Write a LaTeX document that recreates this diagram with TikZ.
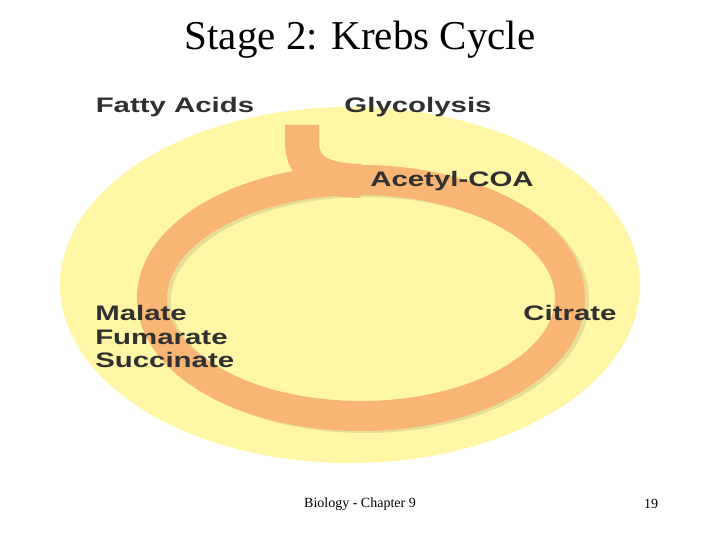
\documentclass[tikz,border=0pt]{standalone}
\usepackage{fontspec}
\setmainfont{Liberation Serif}
\newfontfamily\labelfont{Liberation Sans}
\definecolor{cellyellow}{HTML}{FFF6A6}
\definecolor{cycleorange}{HTML}{F8B574}
\definecolor{cycleshade}{HTML}{E6DE96}
\definecolor{labelgray}{HTML}{303030}

\begin{document}
\begin{tikzpicture}[x=1pt,y=-1pt,
    molecule/.style={font=\labelfont\fontsize{21}{24}\selectfont\bfseries,
                     text=labelgray, inner sep=0pt, xscale=1.4},
    footer/.style={font=\fontsize{14}{16}\selectfont, inner sep=0pt}]
  \useasboundingbox[fill=white] (0,0) rectangle (720,540);

  % background cell and the cycle ring
  \fill[cellyellow] (350,285) ellipse [x radius=290, y radius=178];
  \draw[cycleshade, line width=30pt] (365,300) ellipse [x radius=209, y radius=118];
  \draw[cycleorange, line width=30pt] (361,298) ellipse [x radius=209, y radius=118];
  \draw[cycleorange, line width=34pt] (302,125) -- (302,142)
       .. controls (302,172) and (325,180) .. (361,181);

  \node[font=\fontsize{41}{46}\selectfont] (title) at (360,40) {Stage 2: Krebs Cycle};

  \node[molecule] (fatty)   at (175,107) {Fatty Acids};
  \node[molecule] (glyco)   at (418,107) {Glycolysis};
  \node[molecule] (acetyl)  at (452,181) {Acetyl-COA};
  \node[molecule] (citrate) at (570,313) {Citrate};
  \node[molecule, anchor=west] (malate)    at (95,313) {Malate};
  \node[molecule, anchor=west] (fumarate)  at (95,337) {Fumarate};
  \node[molecule, anchor=west] (succinate) at (95,360) {Succinate};

  \node[footer] (chapter) at (360,504) {Biology - Chapter 9};
  \node[footer] (page)    at (651,504) {19};
\end{tikzpicture}
\end{document}
